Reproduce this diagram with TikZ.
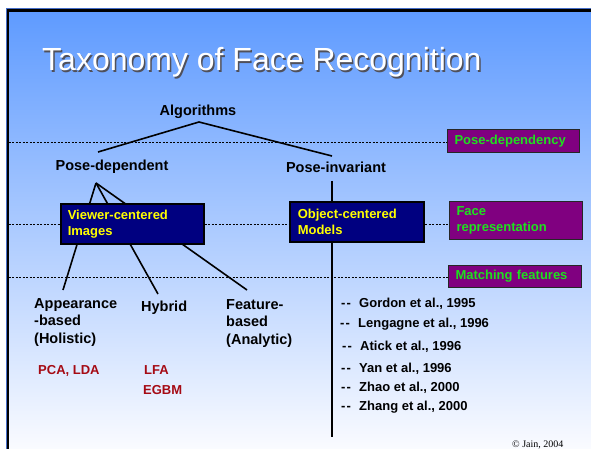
\documentclass[tikz,border=0pt]{standalone}
\usepackage{fontspec}
\setmainfont{Liberation Sans}
\newfontfamily\creditfont{Liberation Serif}
\definecolor{slidetop}{RGB}{95,155,255}
\definecolor{slidebot}{RGB}{250,251,255}
\definecolor{rimblue}{RGB}{70,110,200}
\definecolor{boxnavy}{RGB}{0,0,128}
\definecolor{boxpurple}{RGB}{128,0,128}
\definecolor{tagyellow}{RGB}{255,255,0}
\definecolor{taggreen}{RGB}{30,225,30}
\definecolor{methodred}{RGB}{165,10,20}
\definecolor{shadowgray}{RGB}{80,80,90}
\begin{document}
\begin{tikzpicture}[x=1pt,y=-1pt,
  lbl/.style={font=\fontsize{14.5}{17.5}\selectfont\bfseries, inner sep=0pt, align=left},
  method/.style={font=\fontsize{13}{16}\selectfont\bfseries, text=methodred, inner sep=0pt, anchor=base west},
  ref/.style={font=\fontsize{13}{16}\selectfont\bfseries, inner sep=0pt, anchor=base west},
  navybox/.style={draw=black, line width=1.5pt, fill=boxnavy, text=tagyellow,
    font=\fontsize{13}{16}\selectfont\bfseries, align=left, anchor=north west,
    inner xsep=7pt, inner ysep=0pt},
  purplebox/.style={draw=black!85, line width=1pt, fill=boxpurple, text=taggreen,
    font=\fontsize{13}{16}\selectfont\bfseries, align=left, anchor=north west,
    inner xsep=7pt, inner ysep=0pt},
  guide/.style={draw=black, line width=0.8pt, dash pattern=on 2pt off 1.5pt},
  branch/.style={draw=black, line width=1.6pt},
]
\useasboundingbox (0,0) rectangle (591,449);

% slide background and frame
\shade[top color=slidetop, bottom color=slidebot] (9,12) rectangle (591,449);
\draw[rimblue, line width=1pt] (6,460) -- (6,8.3) -- (600,8.3);
\draw[black, line width=2.6pt] (8,460) -- (8,10.6) -- (600,10.6);

% title with drop shadow
\node[font=\fontsize{32}{38}\selectfont, text=shadowgray, anchor=base west, inner sep=0pt]
  (titleshadow) at (43.5,72.5) {Taxonomy of Face Recognition};
\node[font=\fontsize{32}{38}\selectfont, text=white, anchor=base west, inner sep=0pt]
  (title) at (42,71) {Taxonomy of Face Recognition};

% level tags on the right
\node[purplebox, minimum width=132pt, minimum height=23pt, text width=118pt] (tagpose) at (447,129) {Pose-dependency};
\node[purplebox, minimum width=133pt, minimum height=38pt, text width=119pt] (tagface) at (449,201) {Face\\representation};
\node[purplebox, minimum width=133pt, minimum height=22pt, text width=119pt] (tagmatch) at (448,265) {Matching features};

% dashed guides separating the levels
\coordinate (g1) at (8.5,142);
\coordinate (g2) at (8.5,224);
\coordinate (g3) at (8.5,277);
\draw[guide] (g1) -- (g1 -| tagpose.west);
\draw[guide] (g2) -- (g2 -| tagface.west);
\draw[guide] (g3) -- (g3 -| tagmatch.west);

% tree labels
\node[lbl, anchor=base] (alg) at (198,116) {Algorithms};
\node[lbl, anchor=base] (pdep) at (112,171) {Pose-dependent};
\node[lbl, anchor=base] (pinv) at (336,172) {Pose-invariant};

\node[lbl, anchor=north west] (appear) at (34,298) {Appearance\\-based\\(Holistic)};
\node[lbl, anchor=north west] (hybrid) at (141,301) {Hybrid};
\node[lbl, anchor=north west] (feature) at (226,299) {Feature-\\based\\(Analytic)};

% connector end points
\coordinate (algtip) at (199,122);
\coordinate (pdeptop) at (98,152);
\coordinate (pinvtop) at (332,156);
\coordinate (pdeptip) at (96,183);
\coordinate (appeartop) at (63,290);
\coordinate (hybridtop) at (158,294);
\coordinate (featuretop) at (247,290);
\coordinate (pinvfoot) at (332,181);
\coordinate (trunkend) at (332,437);

\draw[branch] (algtip) -- (pdeptop);
\draw[branch] (algtip) -- (pinvtop);
\draw[branch] (pdeptip) -- (appeartop);
\draw[branch] (pdeptip) -- (hybridtop);
\draw[branch] (pdeptip) -- (featuretop);
\draw[branch] (pinvfoot) -- (trunkend);

% representation boxes
\node[navybox, minimum width=143pt, minimum height=40pt, text width=129pt] (viewer) at (60,203) {Viewer-centered\\Images};
\node[navybox, minimum width=134pt, minimum height=40pt, text width=118pt, inner xsep=8pt] (object) at (289,201) {Object-centered\\Models};

% methods
\node[method] (pca) at (38,374) {PCA, LDA};
\node[method] (lfa) at (144,374) {LFA};
\node[method] (egbm) at (143,394) {EGBM};

% references of the object-centered branch
\newcommand{\refdash}{\makebox[18pt][l]{-\hspace{1.2pt}-}}
\node[ref] (gordon) at (341,307.3) {\refdash Gordon et al., 1995};
\node[ref] (lengagne) at (340,327.3) {\refdash Lengagne et al., 1996};
\node[ref] (atick) at (342,350.3) {\refdash Atick et al., 1996};
\node[ref] (yan) at (341,372.3) {\refdash Yan et al., 1996};
\node[ref] (zhao) at (341,391.3) {\refdash Zhao et al., 2000};
\node[ref] (zhang) at (341,410.3) {\refdash Zhang et al., 2000};

% credit line
\node[font=\creditfont\fontsize{10}{12}\selectfont, anchor=base west, inner sep=0pt] (credit) at (512,447.5) {\textcopyright{} Jain, 2004};
\end{tikzpicture}
\end{document}
